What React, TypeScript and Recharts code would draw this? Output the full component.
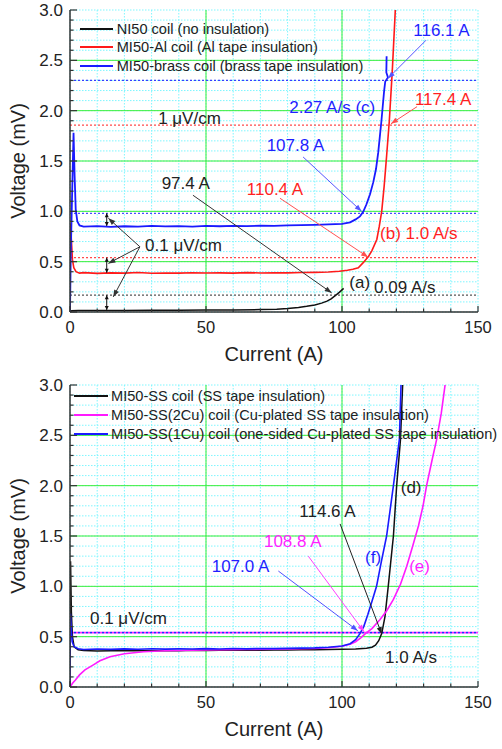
import React from 'react';
import { LineChart, Line, XAxis, YAxis, CartesianGrid, ReferenceLine, ReferenceDot, Legend } from 'recharts';

type Pt = { x: number; y: number };
const FONT = '"Liberation Sans", Arial, sans-serif';
const AX = '#333';

// ---------- axes ----------
const xTicks = [0, 10, 20, 30, 40, 50, 60, 70, 80, 90, 100, 110, 120, 130, 140, 150];
const xMajor = [50, 100];
const yTicks = Array.from({ length: 31 }, (_, i) => Math.round(i) / 10);
const yMajor = [0.5, 1.0, 1.5, 2.0, 2.5];

// ---------- series names ----------
const topNames = [
  'NI50 coil (no insulation)',
  'MI50-Al coil (Al tape insulation)',
  'MI50-brass coil (brass tape insulation)',
];
const bottomNames = [
  'MI50-SS coil (SS tape insulation)',
  'MI50-SS(2Cu) coil (Cu-plated SS tape insulation)',
  'MI50-SS(1Cu) coil (one-sided Cu-plated SS tape insulation)',
];

// ---------- top chart data ----------
const ni50: Pt[] = [
  { x: 0, y: 0.0 }, { x: 0.6, y: 0.012 }, { x: 3, y: 0.014 }, { x: 10, y: 0.015 }, { x: 20, y: 0.016 },
  { x: 30, y: 0.017 }, { x: 40, y: 0.018 }, { x: 50, y: 0.019 }, { x: 60, y: 0.021 }, { x: 70, y: 0.024 },
  { x: 76, y: 0.028 }, { x: 80, y: 0.034 }, { x: 84, y: 0.045 }, { x: 87, y: 0.056 }, { x: 90, y: 0.07 },
  { x: 92.5, y: 0.088 }, { x: 94.5, y: 0.108 }, { x: 96, y: 0.13 }, { x: 97.4, y: 0.16 }, { x: 99, y: 0.195 },
  { x: 100.6, y: 0.235 },
];
const mi50Al: Pt[] = [
  { x: 0, y: 0.02 }, { x: 0.15, y: 0.88 }, { x: 0.5, y: 0.72 }, { x: 0.9, y: 0.52 }, { x: 1.4, y: 0.44 },
  { x: 2.2, y: 0.4 }, { x: 3.5, y: 0.386 }, { x: 5, y: 0.391 }, { x: 10, y: 0.384 }, { x: 15, y: 0.389 },
  { x: 20, y: 0.386 }, { x: 25, y: 0.392 }, { x: 30, y: 0.385 }, { x: 35, y: 0.388 }, { x: 40, y: 0.386 },
  { x: 45, y: 0.39 }, { x: 50, y: 0.387 }, { x: 55, y: 0.389 }, { x: 60, y: 0.386 }, { x: 65, y: 0.391 },
  { x: 70, y: 0.388 }, { x: 75, y: 0.39 }, { x: 80, y: 0.389 }, { x: 85, y: 0.393 }, { x: 90, y: 0.394 },
  { x: 95, y: 0.397 }, { x: 99, y: 0.405 }, { x: 102, y: 0.415 }, { x: 104, y: 0.425 }, { x: 106, y: 0.44 },
  { x: 107.8, y: 0.49 }, { x: 109.7, y: 0.55 }, { x: 111, y: 0.61 }, { x: 112.8, y: 0.72 }, { x: 113.7, y: 0.85 },
  { x: 114.6, y: 1.0 }, { x: 115.5, y: 1.25 }, { x: 116.4, y: 1.55 }, { x: 117.4, y: 1.9 }, { x: 118.5, y: 2.4 },
  { x: 119.6, y: 3.0 }, { x: 119.8, y: 3.1 },
];
const mi50Brass: Pt[] = [
  { x: 0, y: 0.0 }, { x: 0.3, y: 0.6 }, { x: 0.8, y: 1.2 }, { x: 1.3, y: 1.78 }, { x: 1.7, y: 1.35 },
  { x: 2.1, y: 1.02 }, { x: 2.7, y: 0.9 }, { x: 3.5, y: 0.86 }, { x: 5, y: 0.848 }, { x: 10, y: 0.853 },
  { x: 15, y: 0.846 }, { x: 20, y: 0.852 }, { x: 25, y: 0.849 }, { x: 30, y: 0.855 }, { x: 35, y: 0.85 },
  { x: 40, y: 0.853 }, { x: 45, y: 0.849 }, { x: 50, y: 0.856 }, { x: 55, y: 0.852 }, { x: 60, y: 0.855 },
  { x: 65, y: 0.853 }, { x: 70, y: 0.858 }, { x: 75, y: 0.856 }, { x: 80, y: 0.86 }, { x: 85, y: 0.862 },
  { x: 90, y: 0.866 }, { x: 95, y: 0.87 }, { x: 100, y: 0.876 }, { x: 103, y: 0.89 }, { x: 105, y: 0.92 },
  { x: 106.6, y: 0.95 }, { x: 107.8, y: 0.995 }, { x: 109, y: 1.07 }, { x: 110.3, y: 1.17 }, { x: 111.5, y: 1.29 },
  { x: 112.5, y: 1.42 }, { x: 113.3, y: 1.58 }, { x: 114.5, y: 1.9 }, { x: 115.5, y: 2.2 }, { x: 115.9, y: 2.29 },
  { x: 116.9, y: 2.33 }, { x: 116.3, y: 2.38 }, { x: 116.4, y: 2.54 },
];
const topThresholds = [
  { y: 0.167, color: '#555' }, { y: 0.54, color: '#ff4a4a' }, { y: 0.98, color: '#4a4aff' },
  { y: 1.857, color: '#ff4a4a' }, { y: 2.3, color: '#3a3aff' },
];
const topLabels = [
  { x: 126.2, y: 2.74, text: '116.1 A', color: '#1f1fff' },
  { x: 80.6, y: 1.98, text: '2.27 A/s (c)', color: '#1f1fff' },
  { x: 126.8, y: 2.06, text: '117.4 A', color: '#ff1f1f' },
  { x: 32.4, y: 1.87, text: '1 \u03bcV/cm', color: '#222' },
  { x: 72.3, y: 1.595, text: '107.8 A', color: '#1f1fff' },
  { x: 33.7, y: 1.223, text: '97.4 A', color: '#222' },
  { x: 65.0, y: 1.163, text: '110.4 A', color: '#ff1f1f' },
  { x: 114.0, y: 0.722, text: '(b) 1.0 A/s', color: '#ff1f1f' },
  { x: 27.6, y: 0.605, text: '0.1 \u03bcV/cm', color: '#222' },
  { x: 102.7, y: 0.243, text: '(a)', color: '#222' },
  { x: 111.8, y: 0.189, text: '0.09 A/s', color: '#222' },
];
const topArrows = [
  { x1: 130.9, y1: 2.7, x2: 116.9, y2: 2.32, color: '#5555ff' },
  { x1: 127.6, y1: 2.04, x2: 118.0, y2: 1.87, color: '#ff5050' },
  { x1: 85.7, y1: 1.54, x2: 107.2, y2: 1.0, color: '#5555ff' },
  { x1: 77.2, y1: 1.13, x2: 109.6, y2: 0.545, color: '#ff5050' },
  { x1: 45.2, y1: 1.16, x2: 96.2, y2: 0.19, color: '#333' },
  { x1: 25.7, y1: 0.648, x2: 14.1, y2: 0.931, color: '#333' },
  { x1: 25.7, y1: 0.648, x2: 14.1, y2: 0.483, color: '#333' },
  { x1: 25.7, y1: 0.648, x2: 15.9, y2: 0.15, color: '#333' },
];
const topSpans = [
  { x: 13.5, y1: 0.98, y2: 0.855 },
  { x: 13.5, y1: 0.54, y2: 0.39 },
  { x: 13.5, y1: 0.167, y2: 0.02 },
];

// ---------- bottom chart data ----------
const ss: Pt[] = [
  { x: 0, y: 0.42 }, { x: 0.2, y: 1.25 }, { x: 0.5, y: 0.75 }, { x: 0.9, y: 0.5 }, { x: 1.5, y: 0.4 },
  { x: 3, y: 0.37 }, { x: 5, y: 0.362 }, { x: 10, y: 0.358 }, { x: 15, y: 0.361 }, { x: 20, y: 0.359 },
  { x: 25, y: 0.362 }, { x: 30, y: 0.36 }, { x: 35, y: 0.363 }, { x: 40, y: 0.361 }, { x: 45, y: 0.364 },
  { x: 50, y: 0.362 }, { x: 55, y: 0.365 }, { x: 60, y: 0.364 }, { x: 65, y: 0.366 }, { x: 70, y: 0.365 },
  { x: 75, y: 0.368 }, { x: 80, y: 0.367 }, { x: 85, y: 0.37 }, { x: 90, y: 0.371 }, { x: 95, y: 0.373 },
  { x: 100, y: 0.375 }, { x: 105, y: 0.378 }, { x: 109, y: 0.385 }, { x: 111, y: 0.395 }, { x: 112.3, y: 0.415 },
  { x: 113.5, y: 0.46 }, { x: 114.6, y: 0.53 }, { x: 115.8, y: 0.7 }, { x: 117, y: 1.0 }, { x: 118.9, y: 1.5 },
  { x: 120.1, y: 2.0 }, { x: 121.5, y: 2.46 }, { x: 122.3, y: 3.0 }, { x: 122.5, y: 3.1 },
];
const ss2cu: Pt[] = [
  { x: 0, y: 0 }, { x: 0.5, y: 0.02 }, { x: 1, y: 0.04 }, { x: 2, y: 0.07 }, { x: 3.5, y: 0.12 },
  { x: 5.5, y: 0.17 }, { x: 8.6, y: 0.22 }, { x: 11, y: 0.26 }, { x: 14.7, y: 0.3 }, { x: 20, y: 0.33 },
  { x: 27, y: 0.35 }, { x: 35, y: 0.36 }, { x: 50, y: 0.368 }, { x: 65, y: 0.372 }, { x: 80, y: 0.377 },
  { x: 90, y: 0.382 }, { x: 95, y: 0.39 }, { x: 100, y: 0.405 }, { x: 103, y: 0.425 }, { x: 105, y: 0.45 },
  { x: 107, y: 0.49 }, { x: 108.8, y: 0.535 }, { x: 111, y: 0.58 }, { x: 114, y: 0.67 }, { x: 116.5, y: 0.76 },
  { x: 118.9, y: 0.87 }, { x: 121.5, y: 1.02 }, { x: 123.8, y: 1.2 }, { x: 126, y: 1.4 }, { x: 128.1, y: 1.6 },
  { x: 129.8, y: 1.8 }, { x: 131.1, y: 2.0 }, { x: 133, y: 2.24 }, { x: 134.8, y: 2.46 }, { x: 136.5, y: 2.72 },
  { x: 137.9, y: 3.0 }, { x: 138.2, y: 3.05 },
];
const ss1cu: Pt[] = [
  { x: 0, y: 0.0 }, { x: 0.15, y: 0.73 }, { x: 0.4, y: 0.6 }, { x: 0.8, y: 0.45 }, { x: 1.5, y: 0.4 },
  { x: 3, y: 0.38 }, { x: 5, y: 0.372 }, { x: 10, y: 0.378 }, { x: 15, y: 0.374 }, { x: 20, y: 0.379 },
  { x: 25, y: 0.375 }, { x: 30, y: 0.38 }, { x: 35, y: 0.376 }, { x: 40, y: 0.379 }, { x: 45, y: 0.377 },
  { x: 50, y: 0.381 }, { x: 55, y: 0.378 }, { x: 60, y: 0.382 }, { x: 65, y: 0.379 }, { x: 70, y: 0.383 },
  { x: 75, y: 0.381 }, { x: 80, y: 0.384 }, { x: 85, y: 0.386 }, { x: 90, y: 0.389 }, { x: 95, y: 0.395 },
  { x: 100, y: 0.407 }, { x: 103, y: 0.43 }, { x: 105, y: 0.47 }, { x: 106.6, y: 0.53 }, { x: 108, y: 0.6 },
  { x: 109.5, y: 0.72 }, { x: 111, y: 0.85 }, { x: 112.7, y: 1.0 }, { x: 114.5, y: 1.25 }, { x: 116.4, y: 1.5 },
  { x: 118.9, y: 2.0 }, { x: 121.1, y: 2.46 }, { x: 121.7, y: 3.0 }, { x: 121.9, y: 3.1 },
];
const bottomThreshold = 0.54;
const bottomLabels = [
  { x: 121.6, y: 1.924, text: '(d)', color: '#222' },
  { x: 84.3, y: 1.686, text: '114.6 A', color: '#222' },
  { x: 71.3, y: 1.388, text: '108.8 A', color: '#ff1fff' },
  { x: 108.5, y: 1.235, text: '(f)', color: '#1f1fff' },
  { x: 124.7, y: 1.145, text: '(e)', color: '#ff1fff' },
  { x: 52.1, y: 1.145, text: '107.0 A', color: '#1f1fff' },
  { x: 7.35, y: 0.626, text: '0.1 \u03bcV/cm', color: '#222' },
  { x: 115.8, y: 0.235, text: '1.0 A/s', color: '#222' },
];
const bottomArrows = [
  { x1: 76.6, y1: 1.152, x2: 105.8, y2: 0.559, color: '#5050ff' },
  { x1: 87.6, y1: 1.3, x2: 108.1, y2: 0.549, color: '#ff40ff' },
  { x1: 99.3, y1: 1.62, x2: 114.6, y2: 0.526, color: '#222' },
];

// ---------- renderers ----------
const isMajorX = (v: number) => v % 50 === 0;
const isMajorY = (v: number) => Math.abs(v * 2 - Math.round(v * 2)) < 1e-6;

const BottomTick = (p: any) => {
  const v = p.payload.value;
  const major = isMajorX(v);
  return (
    <g>
      <line x1={p.x} y1={p.y} x2={p.x} y2={p.y - (major ? 6 : 3.5)} stroke={AX} strokeWidth={1.2} />
      {major && (
        <text x={p.x} y={p.y + 21} textAnchor="middle" fontSize={16.5} fontFamily={FONT} fill="#222">{v}</text>
      )}
    </g>
  );
};
const TopTick = (p: any) => {
  const major = isMajorX(p.payload.value);
  return <line x1={p.x} y1={p.y} x2={p.x} y2={p.y + (major ? 6 : 3.5)} stroke={AX} strokeWidth={1.2} />;
};
const LeftTick = (p: any) => {
  const v = p.payload.value;
  const major = isMajorY(v);
  return (
    <g>
      <line x1={p.x} y1={p.y} x2={p.x + (major ? 7 : 3.5)} y2={p.y} stroke={AX} strokeWidth={1.2} />
      {major && (
        <text x={p.x - 7} y={p.y + 6} textAnchor="end" fontSize={17} fontFamily={FONT} fill="#222">{v.toFixed(1)}</text>
      )}
    </g>
  );
};
const RightTick = (p: any) => {
  const major = isMajorY(p.payload.value);
  return <line x1={p.x} y1={p.y} x2={p.x - (major ? 7 : 3.5)} y2={p.y} stroke={AX} strokeWidth={1.2} />;
};

const arrowShape = (color: string, both = false, L = 7, W = 2.6) => (p: any) => {
  const { x1, y1, x2, y2 } = p;
  const a = Math.atan2(y2 - y1, x2 - x1);
  const head = (x: number, y: number, ang: number) => {
    const bx = x - L * Math.cos(ang);
    const by = y - L * Math.sin(ang);
    return `${x},${y} ${bx + W * Math.sin(ang)},${by - W * Math.cos(ang)} ${bx - W * Math.sin(ang)},${by + W * Math.cos(ang)}`;
  };
  return (
    <g>
      <line x1={x1} y1={y1} x2={x2} y2={y2} stroke={color} strokeWidth={1} />
      <polygon points={head(x2, y2, a)} fill={color} />
      {both && <polygon points={head(x1, y1, a + Math.PI)} fill={color} />}
    </g>
  );
};

const textShape = (text: string, color: string, size = 17) => (p: any) => (
  <text x={p.cx} y={p.cy} fill={color} fontSize={size} fontFamily={FONT}>{text}</text>
);

const legendBox = (order: string[], rowH: number, lineW: number, gap: number) => (props: any) => {
  const items = [...(props.payload || [])].sort(
    (a: any, b: any) => order.indexOf(a.value) - order.indexOf(b.value),
  );
  return (
    <div style={{ fontFamily: FONT, fontSize: 14.6, color: '#222' }}>
      {items.map((e: any, i: number) => (
        <div key={i} style={{ display: 'flex', alignItems: 'center', height: rowH, whiteSpace: 'nowrap' }}>
          <span style={{ display: 'inline-block', width: lineW, height: 2, background: e.color, marginRight: gap }} />
          <span>{e.value}</span>
        </div>
      ))}
    </div>
  );
};

const xTitle = {
  content: (p: any) => {
    const vb = p.viewBox || {};
    return (
      <text x={vb.x + vb.width / 2} y={vb.y + 49} textAnchor="middle" fontSize={20} fontFamily={FONT} fill="#222">
        Current (A)
      </text>
    );
  },
};
const yTitle = {
  content: (p: any) => {
    const vb = p.viewBox || {};
    const cx = vb.x + 25;
    const cy = vb.y + vb.height / 2;
    return (
      <text x={cx} y={cy} transform={`rotate(-90 ${cx} ${cy})`} textAnchor="middle" fontSize={20} fontFamily={FONT} fill="#222">
        Voltage (mV)
      </text>
    );
  },
};

const axisLine = { stroke: AX, strokeWidth: 1.5 };

const axesAndGrid = () => [
  <XAxis key="xb" type="number" dataKey="x" domain={[0, 150]} ticks={xTicks} interval={0} allowDataOverflow
    height={50} tickLine={false} tickSize={0} tickMargin={0} tick={BottomTick} axisLine={axisLine} label={xTitle} />,
  <XAxis key="xt" xAxisId="top" orientation="top" type="number" dataKey="x" domain={[0, 150]} ticks={xTicks}
    interval={0} allowDataOverflow height={0} tickLine={false} tickSize={0} tickMargin={0} tick={TopTick} axisLine={axisLine} />,
  <YAxis key="yl" type="number" domain={[0, 3]} ticks={yTicks} interval={0} allowDataOverflow width={70}
    tickLine={false} tickSize={0} tickMargin={0} tick={LeftTick} axisLine={axisLine} label={yTitle} />,
  <YAxis key="yr" yAxisId="right" orientation="right" type="number" domain={[0, 3]} ticks={yTicks} interval={0}
    allowDataOverflow width={0} tickLine={false} tickSize={0} tickMargin={0} tick={RightTick} axisLine={axisLine} />,
  <CartesianGrid key="grid" stroke="#7ff6ff" strokeDasharray="1.5 1.5" strokeWidth={1} />,
  ...xMajor.map((v) => <ReferenceLine key={'gx' + v} x={v} stroke="#3bef3b" strokeWidth={1} zIndex={-50} />),
  ...yMajor.map((v) => <ReferenceLine key={'gy' + v} y={v} stroke="#3bef3b" strokeWidth={1} zIndex={-50} />),
];

export default function App() {
  return (
    <div style={{ position: 'absolute', left: 0, top: 0, width: 502, height: 749, overflow: 'hidden', background: '#fff' }}>
      <LineChart width={502} height={375} margin={{ top: 10, right: 24, bottom: 13, left: 0 }}>
        {axesAndGrid()}
        {topThresholds.map((t, i) => (
          <ReferenceLine key={'th' + i} y={t.y} stroke={t.color} strokeDasharray="2 2" strokeWidth={1.2} />
        ))}
        <Line name={topNames[0]} data={ni50} dataKey="y" type="linear" stroke="#111" strokeWidth={1.5} dot={false} isAnimationActive={false} />
        <Line name={topNames[1]} data={mi50Al} dataKey="y" type="linear" stroke="#ff1a1a" strokeWidth={1.6} dot={false} isAnimationActive={false} />
        <Line name={topNames[2]} data={mi50Brass} dataKey="y" type="linear" stroke="#1a1aff" strokeWidth={1.8} dot={false} isAnimationActive={false} />
        {topArrows.map((a, i) => (
          <ReferenceLine key={'ta' + i} segment={[{ x: a.x1, y: a.y1 }, { x: a.x2, y: a.y2 }]} shape={arrowShape(a.color)} />
        ))}
        {topSpans.map((s, i) => (
          <ReferenceLine key={'ts' + i} segment={[{ x: s.x, y: s.y1 }, { x: s.x, y: s.y2 }]} shape={arrowShape('#111', true, 4, 2)} />
        ))}
        {topLabels.map((l, i) => (
          <ReferenceDot key={'tl' + i} x={l.x} y={l.y} r={0} shape={textShape(l.text, l.color)} />
        ))}
        <Legend layout="vertical" align="center" verticalAlign="middle"
          wrapperStyle={{ top: 19.8, left: 80, width: 'auto', height: 'auto' }} content={legendBox(topNames, 18.4, 33, 3.7)} />
      </LineChart>
      <LineChart width={502} height={374} margin={{ top: 10, right: 24, bottom: 12, left: 0 }}>
        {axesAndGrid()}
        <ReferenceLine y={bottomThreshold} stroke="#2a2aff" strokeDasharray="2 2" strokeWidth={1.6} />
        <ReferenceLine y={bottomThreshold} stroke="#ff2aff" strokeDasharray="2 2" strokeDashoffset={2} strokeWidth={1.6} />
        <Line name={bottomNames[0]} data={ss} dataKey="y" type="linear" stroke="#111" strokeWidth={1.5} dot={false} isAnimationActive={false} />
        <Line name={bottomNames[1]} data={ss2cu} dataKey="y" type="linear" stroke="#ff1aff" strokeWidth={1.6} dot={false} isAnimationActive={false} />
        <Line name={bottomNames[2]} data={ss1cu} dataKey="y" type="linear" stroke="#1a1aff" strokeWidth={1.6} dot={false} isAnimationActive={false} />
        {bottomArrows.map((a, i) => (
          <ReferenceLine key={'ba' + i} segment={[{ x: a.x1, y: a.y1 }, { x: a.x2, y: a.y2 }]} shape={arrowShape(a.color)} />
        ))}
        {bottomLabels.map((l, i) => (
          <ReferenceDot key={'bl' + i} x={l.x} y={l.y} r={0} shape={textShape(l.text, l.color)} />
        ))}
        <Legend layout="vertical" align="center" verticalAlign="middle"
          wrapperStyle={{ top: 11.1, left: 74, width: 'auto', height: 'auto' }} content={legendBox(bottomNames, 19.2, 34, 3)} />
      </LineChart>
    </div>
  );
}
